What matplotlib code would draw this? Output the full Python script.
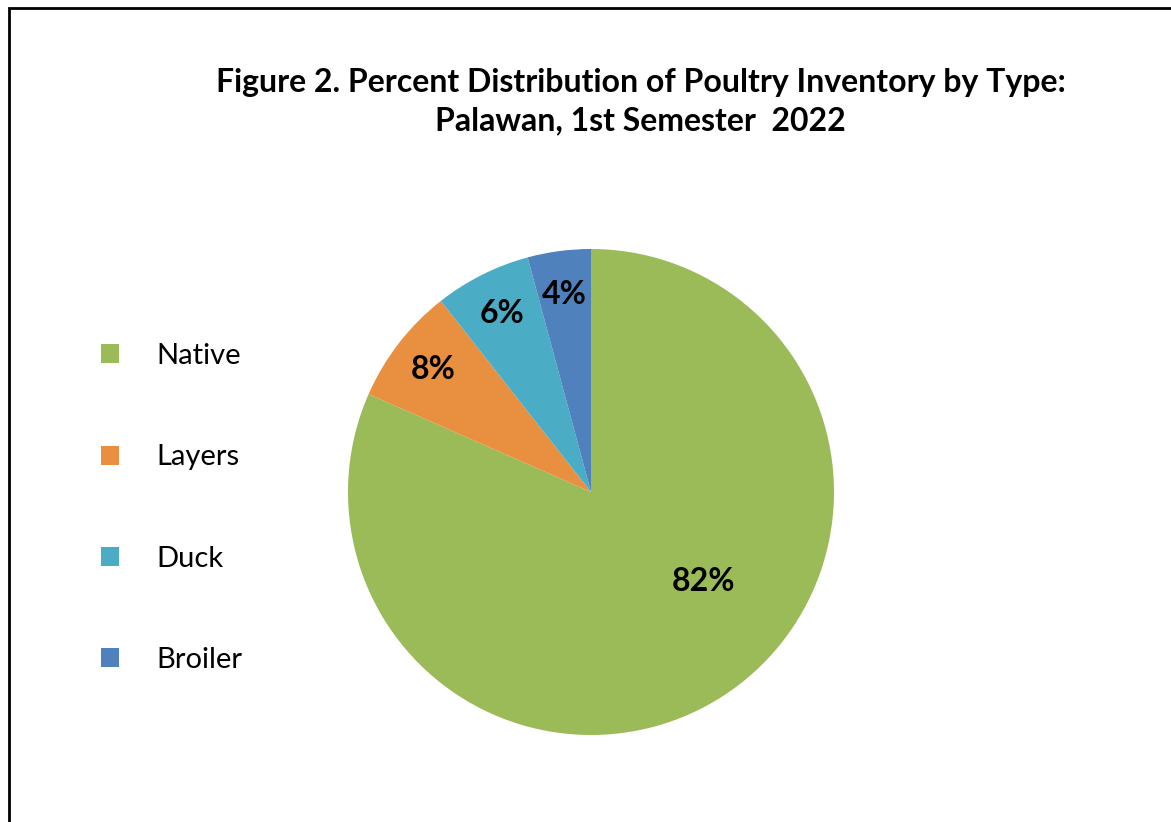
import numpy as np
import matplotlib
matplotlib.use('Agg')
import matplotlib.pyplot as plt
from matplotlib.patches import Patch, Rectangle

plt.rcParams['font.family'] = ['Lato', 'DejaVu Sans']

# ------- data ---------------------------------
types = ['Native', 'Layers', 'Duck', 'Broiler']
percent = [81.6, 7.8, 6.4, 4.2]
colors = ['#9BBB59', '#E8903F', '#4BACC6', '#4F81BD']
title = ('Figure 2. Percent Distribution of Poultry Inventory by Type:\n'
         'Palawan, 1st Semester  2022')

W, H = 1171, 822
fig = plt.figure(figsize=(W / 100, H / 100), dpi=100)

# outer frame (right and bottom run past the image edge)
fig.patches.append(Rectangle((8.5 / W, -0.1), 1.2, 1 - 8.5 / H + 0.1,
                             transform=fig.transFigure, fill=False,
                             edgecolor='black', linewidth=2.0))

# pie axes: centre (591, 492) px, radius 243 px
cx, cy, r = 591, 492, 243
ax = fig.add_axes([(cx - r) / W, (H - cy - r) / H, 2 * r / W, 2 * r / H])
wedges, texts, autotexts = ax.pie(
    percent, colors=colors, startangle=90, counterclock=False,
    autopct='%1.0f%%', pctdistance=0.82, radius=1,
    textprops=dict(fontsize=23, fontweight='bold', color='black'))
ax.set_xlim(-1, 1)
ax.set_ylim(-1, 1)
ax.set_aspect('equal')

# Native label sits off the wedge midpoint, like the original
ang = np.deg2rad(-38.5)
autotexts[0].set_position((0.594 * np.cos(ang), 0.594 * np.sin(ang)))

fig.text(0.547, 1 - 102 / H, title, ha='center', va='center',
         fontsize=23, fontweight='bold', linespacing=1.4)

handles = [Patch(facecolor=c, edgecolor='none') for c in colors]
fig.legend(handles, types, loc='center left',
           bbox_to_anchor=(75 / W, 1 - 508 / H), frameon=False,
           fontsize=21, handlelength=0.62, handleheight=0.62,
           handletextpad=1.27, labelspacing=2.58)

fig.savefig('out.png', dpi=100)
